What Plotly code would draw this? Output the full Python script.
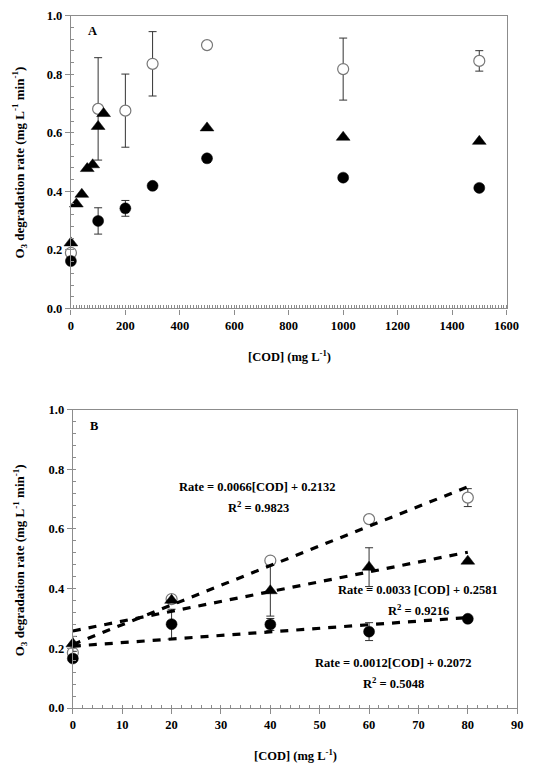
import plotly.graph_objects as go

W, H = 536, 771

# ---------------- Panel A data ----------------
a_open_x = [0, 100, 200, 300, 500, 1000, 1500]
a_open_y = [0.19, 0.682, 0.676, 0.836, 0.90, 0.818, 0.846]
a_open_err = [0, 0.175, 0.125, 0.11, 0, 0.106, 0.035]

a_tri_x = [0, 20, 40, 60, 80, 100, 120, 500, 1000, 1500]
a_tri_y = [0.224, 0.357, 0.39, 0.478, 0.491, 0.622, 0.666, 0.617, 0.585, 0.571]

a_fill_x = [0, 100, 200, 300, 500, 1000, 1500]
a_fill_y = [0.162, 0.299, 0.342, 0.419, 0.513, 0.447, 0.412]
a_fill_err = [0, 0.045, 0.027, 0, 0, 0, 0]

# ---------------- Panel B data ----------------
b_x = [0, 20, 40, 60, 80]
b_open_y = [0.185, 0.365, 0.494, 0.633, 0.705]
b_open_err = [0.03, 0, 0, 0, 0.03]
b_tri_y = [0.215, 0.361, 0.393, 0.472, 0.492]
b_tri_err = [0.025, 0, 0.085, 0.065, 0]
b_fill_y = [0.166, 0.281, 0.28, 0.256, 0.299]
b_fill_err = [0, 0.05, 0.02, 0.03, 0]

# trend line endpoints (as drawn)
trend_x = [0, 80]
trend_open = [0.2132, 0.7412]
trend_tri = [0.2581, 0.5221]
trend_fill = [0.2072, 0.3032]

eq_texts = [
    "Rate = 0.0066[COD] + 0.2132", "R<sup>2</sup> = 0.9823",
    "Rate = 0.0033 [COD] + 0.2581", "R<sup>2</sup> = 0.9216",
    "Rate = 0.0012[COD] + 0.2072", "R<sup>2</sup> = 0.5048",
]

FONT = "Liberation Serif, Times New Roman, Times, serif"
GRAY = "#8c8c8c"
ERRC = "#333333"


def px(x):
    return x / W


def py(y):
    return 1 - y / H


fig = go.Figure()


def add_series(xa, ya, x, y, err, kind):
    if kind == "open":
        marker = dict(symbol="circle", size=11, color="white",
                      line=dict(color="#777777", width=1.2))
    elif kind == "tri":
        marker = dict(symbol="triangle-up", size=12, color="black",
                      line=dict(color="black", width=0.5))
    else:
        marker = dict(symbol="circle", size=11, color="black",
                      line=dict(color="black", width=0.5))
    kw = {}
    if err is not None:
        kw["error_y"] = dict(type="data", array=err, visible=True,
                             color=ERRC, thickness=1, width=4)
    fig.add_trace(go.Scatter(x=x, y=y, mode="markers", marker=marker,
                             xaxis=xa, yaxis=ya, cliponaxis=False,
                             showlegend=False, **kw))


# Panel A
add_series("x", "y", a_open_x, a_open_y, a_open_err, "open")
add_series("x", "y", a_tri_x, a_tri_y, None, "tri")
add_series("x", "y", a_fill_x, a_fill_y, a_fill_err, "fill")

# Panel B
add_series("x2", "y2", b_x, b_open_y, b_open_err, "open")
add_series("x2", "y2", b_x, b_tri_y, b_tri_err, "tri")
add_series("x2", "y2", b_x, b_fill_y, b_fill_err, "fill")

for ty in (trend_open, trend_tri, trend_fill):
    fig.add_trace(go.Scatter(x=trend_x, y=ty, mode="lines",
                             line=dict(color="black", width=3.2, dash="8px,8px"),
                             xaxis="x2", yaxis="y2", showlegend=False,
                             cliponaxis=False))

tickfont = dict(family=FONT, size=12.5, color="black", weight="bold")


def axis(domain, rng, dtick, minor_dtick, fmt=None):
    d = dict(domain=domain, range=rng, dtick=dtick, tick0=0,
             showline=True, linecolor=GRAY, linewidth=1.3, mirror=True,
             ticks="outside", ticklen=5, tickcolor=GRAY, tickwidth=1,
             showgrid=False, zeroline=False, tickfont=tickfont,
             minor=dict(dtick=minor_dtick, tick0=0, ticks="inside", ticklen=3,
                        tickcolor=GRAY, tickwidth=1, showgrid=False),
             fixedrange=True)
    if fmt:
        d["tickformat"] = fmt
    return d


fig.update_layout(
    width=W, height=H, autosize=False,
    margin=dict(l=0, r=0, t=0, b=0),
    paper_bgcolor="white", plot_bgcolor="white",
    font=dict(family=FONT),
    xaxis=axis([px(70), px(519)], [0, 1600], 200, 10),
    yaxis=axis([py(307), py(9)], [0, 1.0], 0.2, 0.04, ".1f"),
    xaxis2=dict(axis([px(72), px(530)], [0, 90], 10, 2), anchor="y2"),
    yaxis2=dict(axis([py(714), py(410)], [0, 1.0], 0.2, 0.04, ".1f"), anchor="x2"),
)
fig.layout.xaxis.anchor = "y"
fig.layout.yaxis.anchor = "x"

ann = []


def text(x, y, t, size=12.5, angle=0):
    ann.append(dict(x=px(x), y=py(y), xref="paper", yref="paper", text=t,
                    showarrow=False, textangle=angle, xanchor="center",
                    yanchor="middle",
                    font=dict(family=FONT, size=size, color="black", weight="bold")))


ytitle = "O<sub>3</sub> degradation rate (mg L<sup>-1</sup> min<sup>-1</sup>)"
xtitle = "[COD] (mg L<sup>-1</sup>)"
text(17, 158, ytitle, 13, -90)
text(17, 563, ytitle, 13, -90)
text(295, 355, xtitle, 12.5)
text(301, 762, xtitle, 12.5)
text(92, 24, "A", 12.5)
text(94, 427, "B", 12.5)

text(262, 489, eq_texts[0])
text(263, 509, eq_texts[1])
text(428, 594, eq_texts[2])
text(428, 614, eq_texts[3])
text(403, 668, eq_texts[4])
text(402, 688, eq_texts[5])

fig.update_layout(annotations=ann)

fig.write_html("out.html")
